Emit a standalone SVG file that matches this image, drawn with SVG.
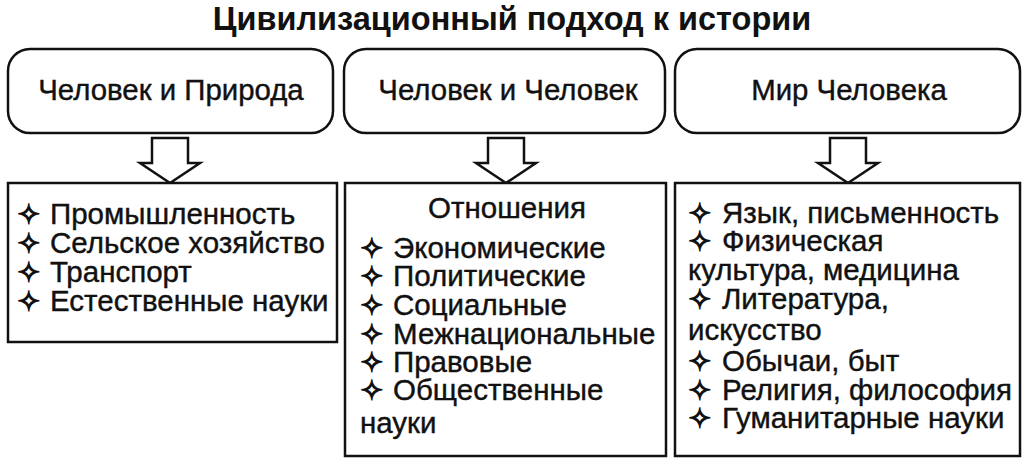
<svg xmlns="http://www.w3.org/2000/svg" width="1024" height="461" viewBox="0 0 1024 461">
<style>
text{font-family:"Liberation Sans",Arial,sans-serif;fill:#111;}
.title{font-size:32.5px;font-weight:bold;}
.head{font-size:29.4px;stroke:#111;stroke-width:0.4;}
.item{font-size:29.5px;stroke:#111;stroke-width:0.4;}
.b{font-family:"DejaVu Sans",sans-serif;font-size:28px;stroke:#111;stroke-width:1.3;}
.box{fill:#fff;stroke:#111;stroke-width:2.5;}
.arrow{fill:#fff;stroke:#111;stroke-width:2.5;stroke-linejoin:miter;}
</style>
<defs>
<path id="arr" d="M-18,0 H18 V25 H30 L0,45 L-30,25 H-18 Z"/>
</defs>
<rect width="1024" height="461" fill="#fff"/>
<text class="title" x="512" y="29.5" text-anchor="middle">Цивилизационный подход к истории</text>

<g id="top1"><rect class="box" x="8" y="49" width="325" height="84" rx="22"/><text class="head" x="171" y="100" text-anchor="middle">Человек и Природа</text></g>
<g id="top2"><rect class="box" x="344" y="49" width="321" height="84" rx="22"/><text class="head" x="508" y="100" text-anchor="middle">Человек и Человек</text></g>
<g id="top3"><rect class="box" x="675" y="49" width="345" height="84" rx="22"/><text class="head" x="849" y="100" text-anchor="middle">Мир Человека</text></g>

<g id="connectors">
<use href="#arr" class="arrow" transform="translate(170,138)"/>
<use href="#arr" class="arrow" transform="translate(506,138)"/>
<use href="#arr" class="arrow" transform="translate(848,138)"/>
</g>

<g id="list1"><rect class="box" x="8" y="183" width="329" height="159"/>
<text class="item" x="17" y="224"><tspan class="b">✧</tspan><tspan x="50">Промышленность</tspan></text>
<text class="item" x="17" y="253"><tspan class="b">✧</tspan><tspan x="50">Сельское хозяйство</tspan></text>
<text class="item" x="17" y="282"><tspan class="b">✧</tspan><tspan x="50">Транспорт</tspan></text>
<text class="item" x="17" y="311"><tspan class="b">✧</tspan><tspan x="50">Естественные науки</tspan></text>
</g>

<g id="list2"><rect class="box" x="345" y="183" width="321" height="273"/>
<text class="item" x="507" y="218" text-anchor="middle">Отношения</text>
<text class="item" x="360" y="258"><tspan class="b">✧</tspan><tspan x="393">Экономические</tspan></text>
<text class="item" x="360" y="286"><tspan class="b">✧</tspan><tspan x="393">Политические</tspan></text>
<text class="item" x="360" y="315"><tspan class="b">✧</tspan><tspan x="393">Социальные</tspan></text>
<text class="item" x="360" y="344"><tspan class="b">✧</tspan><tspan x="393">Межнациональные</tspan></text>
<text class="item" x="360" y="372"><tspan class="b">✧</tspan><tspan x="393">Правовые</tspan></text>
<text class="item" x="360" y="400"><tspan class="b">✧</tspan><tspan x="393">Общественные</tspan></text>
<text class="item" x="360" y="433">науки</text>
</g>

<g id="list3"><rect class="box" x="675" y="183" width="345" height="273"/>
<text class="item" x="688" y="223"><tspan class="b">✧</tspan><tspan x="722">Язык, письменность</tspan></text>
<text class="item" x="688" y="251"><tspan class="b">✧</tspan><tspan x="722">Физическая</tspan></text>
<text class="item" x="688" y="280">культура, медицина</text>
<text class="item" x="688" y="309"><tspan class="b">✧</tspan><tspan x="722">Литература,</tspan></text>
<text class="item" x="688" y="340">искусство</text>
<text class="item" x="688" y="371"><tspan class="b">✧</tspan><tspan x="722">Обычаи, быт</tspan></text>
<text class="item" x="688" y="400"><tspan class="b">✧</tspan><tspan x="722">Религия, философия</tspan></text>
<text class="item" x="688" y="428"><tspan class="b">✧</tspan><tspan x="722">Гуманитарные науки</tspan></text>
</g>
</svg>
